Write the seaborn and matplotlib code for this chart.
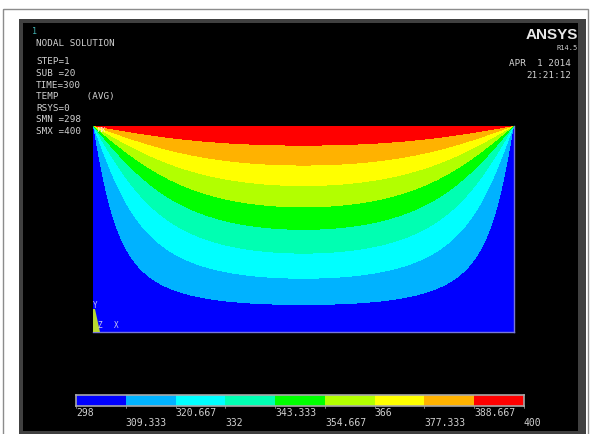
import numpy as np
import matplotlib
matplotlib.use('Agg')
import matplotlib.pyplot as plt
from matplotlib.colors import ListedColormap
from matplotlib.patches import Rectangle, Polygon
from matplotlib.transforms import blended_transform_factory
import seaborn as sns

# boundary conditions (SMN / SMX), plate aspect from the picture
T_SIDES = 298.0
T_TOP = 400.0
PLATE_W = 2.04
PLATE_H = 1.0
NX, NY = 421, 206

# contour levels and band colours of the legend
LEVELS = [298, 309.333, 320.667, 332, 343.333, 354.667, 366, 377.333, 388.667, 400]
BAND_COLORS = ['#0000ff', '#00b2ff', '#00ffff', '#00ffb2', '#00ff00',
               '#b2ff00', '#ffff00', '#ffb200', '#ff0000']

HEADER = ['STEP=1', 'SUB =20', 'TIME=300', 'TEMP     (AVG)', 'RSYS=0', 'SMN =298', 'SMX =400']
STAMP = ['APR  1 2014', '21:21:12']

TXT = '#d0d0d0'
MONO = 'DejaVu Sans Mono'


def temperature_field():
    # steady conduction in the plate: top edge at T_TOP, the other three at T_SIDES
    x = (np.arange(NX) + 0.5) / NX * PLATE_W
    y = PLATE_H - (np.arange(NY) + 0.5) / NY * PLATE_H   # first row = top edge
    theta = np.zeros((NY, NX))
    for n in range(1, 4000, 2):
        k = n * np.pi / PLATE_W
        ry = np.exp(k * (y - PLATE_H)) * (1 - np.exp(-2 * k * y)) / (1 - np.exp(-2 * k * PLATE_H))
        theta += 4 / (n * np.pi) * np.outer(ry, np.sin(k * x))
    return T_SIDES + (T_TOP - T_SIDES) * np.clip(theta, 0, 1)


def main():
    sns.set_theme(style='white')
    cmap = ListedColormap(BAND_COLORS)

    fig = plt.figure(figsize=(5.9, 4.34), dpi=100)
    fig.patch.set_facecolor('white')

    # ── frame / black viewport ─────────────────────────────────────────────
    bg = fig.add_axes([0, 0, 1, 1])
    bg.set_xlim(0, 590)
    bg.set_ylim(434, 0)
    bg.axis('off')
    bg.add_patch(Rectangle((3, 9), 585, 440, fill=False, edgecolor='#8c8c8c', lw=1))
    bg.add_patch(Rectangle((19, 19), 567, 416, facecolor='#404040', edgecolor='none'))
    bg.add_patch(Rectangle((23, 23), 555, 408, facecolor='black', edgecolor='none'))

    # ── contour field ──────────────────────────────────────────────────────
    temp = temperature_field()
    band = np.clip(np.digitize(temp, LEVELS[1:-1]), 0, len(BAND_COLORS) - 1)

    ax = fig.add_axes([93 / 590, (434 - 332) / 434, 421 / 590, 206 / 434])
    sns.heatmap(band, cmap=cmap, vmin=-0.5, vmax=len(BAND_COLORS) - 0.5, cbar=False,
                xticklabels=False, yticklabels=False, ax=ax, rasterized=True)
    for side, sp in ax.spines.items():
        sp.set_visible(side in ('bottom', 'right'))
        sp.set_color('#7878d8')
        sp.set_linewidth(1.0)

    # ── legend bar ─────────────────────────────────────────────────────────
    cax = fig.add_axes([76 / 590, (434 - 406) / 434, 448 / 590, 11 / 434])
    sns.heatmap(np.arange(len(BAND_COLORS))[None, :], cmap=cmap, vmin=-0.5,
                vmax=len(BAND_COLORS) - 0.5, cbar=False, xticklabels=False,
                yticklabels=False, linewidths=0, ax=cax)
    for sp in cax.spines.values():
        sp.set_visible(True)
        sp.set_color('#a8a8a8')
        sp.set_linewidth(1.2)
    tr = blended_transform_factory(cax.transData, cax.transAxes)
    for i, lev in enumerate(LEVELS):
        yy = -0.62 if i % 2 == 0 else -1.55
        cax.text(i, yy, f'{lev:g}', transform=tr, ha='left', va='center',
                 fontsize=7, family=MONO, color=TXT, clip_on=False)
        cax.plot([i, i], [0, -0.2], transform=tr, color='#909090', lw=0.6, clip_on=False)

    # ── annotations ────────────────────────────────────────────────────────
    ov = fig.add_axes([0, 0, 1, 1])
    ov.set_xlim(0, 590)
    ov.set_ylim(434, 0)
    ov.axis('off')
    ov.patch.set_alpha(0)

    ov.text(32, 32, '1', fontsize=6, family=MONO, color='#40b0b0', va='center')
    ov.text(36, 43, 'NODAL SOLUTION', fontsize=6.7, family=MONO, color=TXT, va='center')
    for i, line in enumerate(HEADER):
        ov.text(36, 62 + i * 11.6, line, fontsize=6.7, family=MONO, color=TXT, va='center')

    ov.text(578, 35, 'ANSYS', fontsize=11, family='Liberation Sans', weight='bold',
            color='#e8e8e8', ha='right', va='center')
    ov.text(578, 48, 'R14.5', fontsize=5, family=MONO, color=TXT, ha='right', va='center')
    for i, line in enumerate(STAMP):
        ov.text(571, 64 + i * 11, line, fontsize=6.7, family=MONO, color=TXT,
                ha='right', va='center')

    ov.text(98, 130, 'MX', fontsize=5, family=MONO, color='#ffe0e0', va='center')
    ov.add_patch(Polygon([(93, 309), (95, 309), (100, 332), (93, 332)],
                         closed=True, facecolor='#b8d830', edgecolor='none'))
    ov.text(93, 305, 'Y', fontsize=5.5, family=MONO, color='#c8c8f0', va='center')
    ov.text(97, 326, 'Z', fontsize=5.5, family=MONO, color='#c8c8f0', va='center')
    ov.text(114, 326, 'X', fontsize=5.5, family=MONO, color='#c8c8f0', va='center')

    fig.savefig('out.png', dpi=100)
    plt.close(fig)


if __name__ == '__main__':
    main()
